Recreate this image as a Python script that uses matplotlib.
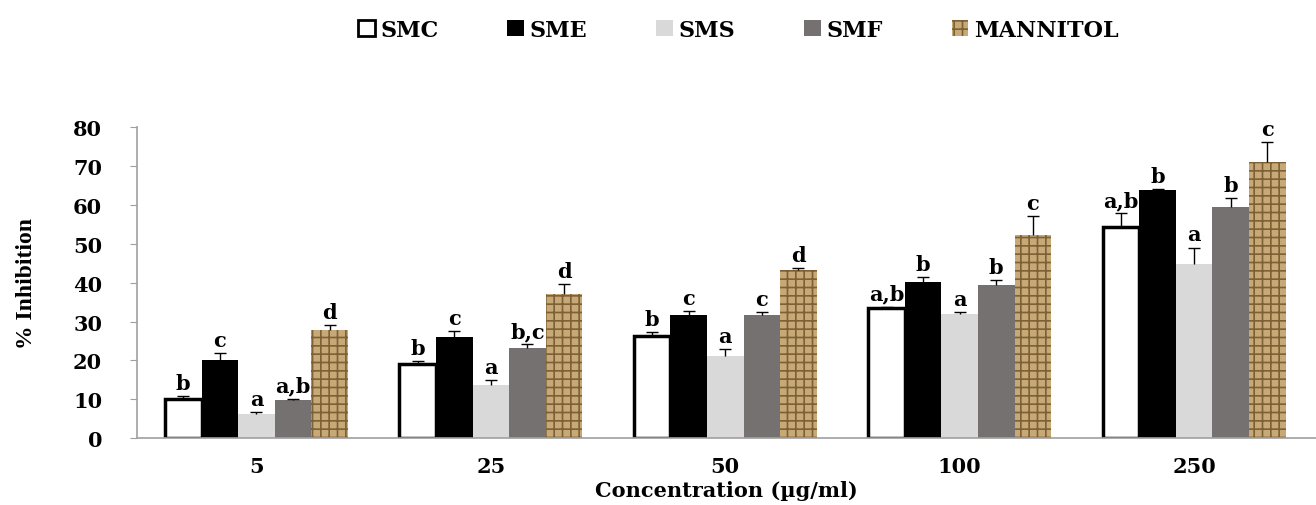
import numpy as np
import matplotlib.pyplot as plt
from matplotlib.patches import Patch

plt.rcParams['font.family'] = ['DejaVu Serif']
plt.rcParams['font.weight'] = 'bold'
plt.rcParams['hatch.linewidth'] = 1.2

conc = ['5', '25', '50', '100', '250']
series = ['SMC', 'SME', 'SMS', 'SMF', 'MANNITOL']
vals = {
    'SMC': [10.0, 19.2, 26.3, 33.5, 54.4],
    'SME': [20.2, 26.0, 31.8, 40.2, 63.7],
    'SMS': [6.2, 13.7, 21.2, 32.0, 44.8],
    'SMF': [9.7, 23.2, 31.8, 39.5, 59.5],
    'MANNITOL': [27.7, 37.0, 43.2, 52.2, 70.9],
}
errs = {
    'SMC': [0.8, 0.6, 1.1, 0.3, 3.4],
    'SME': [1.8, 1.5, 1.0, 1.3, 0.3],
    'SMS': [0.5, 1.3, 1.8, 0.4, 4.2],
    'SMF': [0.4, 0.9, 0.6, 1.2, 2.3],
    'MANNITOL': [1.4, 2.6, 0.6, 4.8, 5.3],
}
letters = {
    'SMC': ['b', 'b', 'b', 'a,b', 'a,b'],
    'SME': ['c', 'c', 'c', 'b', 'b'],
    'SMS': ['a', 'a', 'a', 'a', 'a'],
    'SMF': ['a,b', 'b,c', 'c', 'b', 'b'],
    'MANNITOL': ['d', 'd', 'd', 'c', 'c'],
}

styles = {
    'SMC': dict(facecolor='white', edgecolor='black', linewidth=2.5),
    'SME': dict(facecolor='black', edgecolor='black', linewidth=0),
    'SMS': dict(facecolor='#d9d9d9', edgecolor='#d9d9d9', linewidth=0),
    'SMF': dict(facecolor='#767171', edgecolor='#767171', linewidth=0),
    'MANNITOL': dict(facecolor='#c6a977', edgecolor='#7d6035', linewidth=0, hatch='++'),
}

fig = plt.figure(figsize=(13.16, 5.06), dpi=100)
ax = fig.add_axes([0.104, 0.132, 0.896, 0.615])

x = np.arange(len(conc))
w = 0.156
for i, s in enumerate(series):
    pos = x + (i - 2) * w
    top = np.array(vals[s]) + np.array(errs[s])
    ax.bar(pos, vals[s], w, **styles[s])
    # upward error bars with a cap on top only
    ax.vlines(pos, vals[s], top, color='black', lw=1, zorder=3)
    ax.plot(pos, top, ls='none', marker='_', ms=9, mew=1, color='black', zorder=3)
    for p, t, lab in zip(pos, top, letters[s]):
        ax.text(p, t + 0.8, lab, ha='center', va='bottom', fontsize=15, fontweight='bold')

ax.set_xlim(-0.51, 4.52)
ax.set_ylim(0, 80)
ax.set_yticks(range(0, 81, 10))
ax.set_xticks(x)
ax.set_xticklabels(conc)
ax.tick_params(axis='x', length=0, pad=13, labelsize=15)
ax.tick_params(axis='y', length=5, color='#a0a0a0', pad=20, labelsize=15)
for sp in ['top', 'right']:
    ax.spines[sp].set_visible(False)
for sp in ['left', 'bottom']:
    ax.spines[sp].set_color('#a0a0a0')
    ax.spines[sp].set_linewidth(1.2)

ax.set_ylabel('% Inhibition', fontsize=17, fontweight='bold', labelpad=26,
              family='Liberation Serif')
ax.set_xlabel('Concentration (µg/ml)', fontsize=15, fontweight='bold', labelpad=3)

handles = [Patch(**styles[s], label=s) for s in series]
handles[0] = Patch(facecolor='white', edgecolor='black', linewidth=2, label='SMC')
fig.legend(handles=handles, loc='upper center', bbox_to_anchor=(0.561, 1.0), ncol=5,
           frameon=False, fontsize=16, handlelength=0.75, handleheight=0.75,
           handletextpad=0.25, columnspacing=3.1)

fig.savefig('out.png', dpi=100)
